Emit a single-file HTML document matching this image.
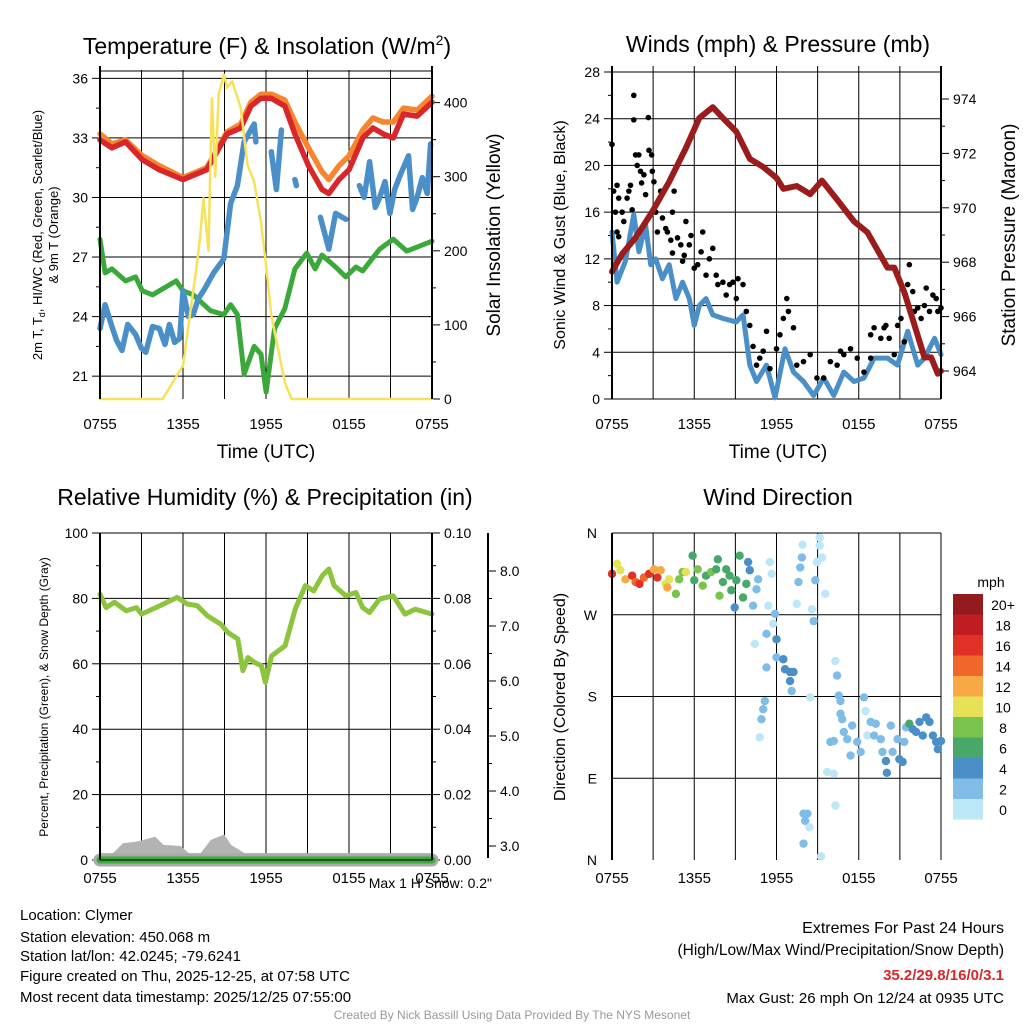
<!DOCTYPE html>
<html><head><meta charset="utf-8"><style>
body{margin:0;background:#fff;}
svg{font-family:"Liberation Sans",sans-serif;}
</style></head><body>
<svg id="s" width="1024" height="1024" viewBox="0 0 1024 1024" xmlns="http://www.w3.org/2000/svg">
<rect width="1024" height="1024" fill="#fff"/>
<text x="267" y="54" font-size="23" text-anchor="middle">Temperature (F) &amp; Insolation (W/m<tspan font-size="14" dy="-9">2</tspan><tspan dy="9">)</tspan></text>
<text x="778" y="52" font-size="23" text-anchor="middle">Winds (mph) &amp; Pressure (mb)</text>
<text x="265" y="505" font-size="23" text-anchor="middle">Relative Humidity (%) &amp; Precipitation (in)</text>
<text x="778" y="505" font-size="23" text-anchor="middle">Wind Direction</text>
<text x="266" y="458" font-size="19" text-anchor="middle">Time (UTC)</text>
<text x="778" y="458" font-size="19" text-anchor="middle">Time (UTC)</text>
<text transform="translate(42,235) rotate(-90)" font-size="13" text-anchor="middle"><tspan x="0" dy="0">2m T, T<tspan font-size="9" dy="3">d</tspan><tspan dy="-3">, HI/WC (Red, Green, Scarlet/Blue)</tspan></tspan><tspan x="0" dy="16">&amp; 9m T (Orange)</tspan></text>
<text transform="translate(500,235) rotate(-90)" font-size="19" text-anchor="middle">Solar Insolation (Yellow)</text>
<text transform="translate(565,235) rotate(-90)" font-size="16" text-anchor="middle">Sonic Wind &amp; Gust (Blue, Black)</text>
<text transform="translate(1015,235) rotate(-90)" font-size="19" text-anchor="middle">Station Pressure (Maroon)</text>
<text transform="translate(48,697) rotate(-90)" font-size="12" text-anchor="middle">Percent, Precipitation (Green), &amp; Snow Depth (Gray)</text>
<text transform="translate(565,697) rotate(-90)" font-size="16" text-anchor="middle">Direction (Colored By Speed)</text>
<text x="492" y="888" font-size="14" text-anchor="end">Max 1 H Snow: 0.2"</text>
<g font-size="15">
<text x="20" y="920">Location: Clymer</text>
<text x="20" y="942">Station elevation: 450.068 m</text>
<text x="20" y="961">Station lat/lon: 42.0245; -79.6241</text>
<text x="20" y="981">Figure created on Thu, 2025-12-25, at 07:58 UTC</text>
<text x="20" y="1002">Most recent data timestamp: 2025/12/25 07:55:00</text>
</g>
<g font-size="16" text-anchor="end">
<text x="1004" y="933">Extremes For Past 24 Hours</text>
<text x="1004" y="955" font-size="15.5">(High/Low/Max Wind/Precipitation/Snow Depth)</text>
<text x="1004" y="980" font-size="15" font-weight="bold" fill="#d62728">35.2/29.8/16/0/3.1</text>
<text x="1004" y="1003" font-size="15">Max Gust: 26 mph On 12/24 at 0935 UTC</text>
</g>
<text x="512" y="1019" font-size="12" fill="#999" text-anchor="middle">Created By Nick Bassill Using Data Provided By The NYS Mesonet</text>
<g id="g"></g>
</svg>
<script>
// ---- data (hours since 0755 UTC) ----
const xTickLabels=["0755","1355","1955","0155","0755"];
const tTime=[0,0.86,1.84,3.06,4.29,6.0,7.72,9.19,10.17,10.91,11.64,12.38,13.36,14.09,15.07,16.05,16.54,17.28,18.01,19.0,19.73,20.47,21.2,21.94,22.92,24];
const tempRed=[32.9,32.5,32.8,31.9,31.4,30.9,31.4,33.2,33.5,34.6,35.0,35.0,34.6,33.2,31.6,30.4,30.2,30.9,31.4,33.0,33.5,33.2,33.0,34.2,34.1,34.8];
const tempOrange=[33.2,32.7,32.9,32.1,31.6,31.0,31.5,33.3,33.7,34.8,35.2,35.2,34.9,33.8,32.5,31.3,30.9,31.6,32.1,33.4,34.0,33.8,33.8,34.5,34.4,35.1];
const blueTime=[0,0.37,0.86,1.2,1.59,2.0,2.57,3.0,3.31,3.8,4.29,4.7,5.02,5.4,5.76,6.0,6.4,6.74,7.1,7.48,8.21,8.95,9.44,9.93,10.42,11.15,11.27,11.8,12.38,12.75,13.11,13.6,14.09,14.2,15.0,15.93,16.54,17.03,17.77,18.2,18.75,19.1,19.49,19.9,20.22,20.6,20.96,21.3,21.69,22.3,22.6,22.92,23.3,23.65,23.9];
const tempBlue=[23.4,24.6,23.5,22.8,22.3,23.6,23.1,22.4,22.2,23.5,23.4,22.6,23.6,22.7,22.9,25.3,24.0,24.1,24.9,25.3,26.2,26.9,29.7,30.6,32.8,33.7,32.8,null,32.3,30.4,33.4,null,30.9,30.6,null,29.0,27.4,29.2,28.9,null,30.6,30.0,31.8,29.5,30.0,30.8,29.2,30.4,31.1,32.1,29.4,30.0,31.0,30.2,32.7];
const greenTime=[0,0.37,0.86,1.84,2.57,3.06,3.8,5.51,6.0,6.74,7.97,8.95,9.44,9.93,10.42,11.15,11.64,12.01,12.62,13.36,14.09,14.95,15.56,16.05,17.03,17.77,18.5,18.99,20.22,21.2,22.18,22.92,24];
const tempGreen=[27.9,26.2,26.4,25.8,26.0,25.3,25.1,25.8,25.3,25.1,24.3,24.1,24.6,24.1,21.1,22.5,22.1,20.2,23.4,24.4,26.4,27.2,26.4,27.1,26.5,26.0,26.5,26.3,27.4,27.9,27.3,27.5,27.8];
const solTime=[0,4.53,5.27,6.0,6.5,7.0,7.23,7.48,7.84,8.09,8.33,8.58,8.95,9.19,9.56,10.17,10.66,11.15,11.64,12.0,12.38,12.87,13.36,13.85,24];
const solar=[0,0,23,45,113,181,217,271,200,406,300,411,438,420,429,393,316,293,239,181,113,68,23,0,0];
// winds
const wTime=[0,0.37,0.98,1.59,1.96,2.45,2.82,3.19,3.68,4.17,4.66,5.15,5.64,6.0,6.37,6.86,7.35,8.09,9.07,9.56,10.05,10.54,11.27,11.89,12.62,13.24,13.97,14.71,15.44,16.18,16.91,17.65,18.38,19.12,20.1,20.83,21.57,22.3,22.79,23.53,24];
const wind=[14.3,10.0,11.8,15.8,12.6,14.9,11.5,12.0,10.3,11.5,8.6,10.0,8.6,6.3,8.0,8.6,7.2,6.9,6.6,7.2,2.9,1.5,2.9,0.1,4.3,2.3,1.5,0.3,1.8,0.3,2.3,1.5,1.8,3.5,3.5,2.9,5.8,2.9,3.5,5.2,3.8];
const gustTime=[0,0.12,0.37,0.49,0.25,0.37,0.49,0.74,0.86,1.1,1.23,1.35,1.47,1.59,1.59,1.72,1.96,1.84,2.08,2.16,2.33,2.45,2.65,2.7,2.89,2.94,3.06,3.19,3.31,3.55,3.68,3.92,4.04,4.29,4.41,4.53,4.41,4.78,5.02,5.15,5.39,5.27,5.64,5.76,6.0,6.25,6.5,6.62,6.86,7.1,7.35,7.6,7.72,8.09,8.33,8.58,8.82,9.07,9.19,9.56,9.8,10.05,10.29,10.54,10.78,11.03,11.27,11.52,12.0,12.25,12.5,12.75,12.87,13.24,13.48,13.97,14.46,14.95,15.44,15.93,16.42,16.67,16.91,17.4,17.89,18.38,18.87,18.87,19.12,19.61,19.85,19.98,20.22,20.59,20.83,21.08,21.32,21.57,21.69,21.94,22.06,22.3,22.55,22.79,22.92,23.16,23.41,23.65,23.77,24];
const gust=[21.8,17.8,18.3,17.2,16.0,14.3,13.9,16.0,15.2,17.2,17.8,18.3,16.2,23.9,26,20.9,20.9,20.0,19.5,18.5,19.2,17.5,24.1,21.3,20.9,19.5,18.6,16.0,14.3,17.8,15.5,14.6,14.3,13.6,16.0,17.8,12.5,13.8,13.2,11.8,15.2,12.3,13.2,14.0,11.2,11.5,12.6,14.3,10.6,12.0,12.9,10.6,9.8,10.0,8.9,9.8,10.0,8.6,10.3,9.8,7.5,6.3,4.5,2.9,3.5,4.1,5.8,2.6,4.3,5.5,6.9,8.6,7.5,6.1,2.9,3.2,3.8,1.8,1.8,3.2,2.9,4.1,3.8,4.3,3.5,2.3,3.5,5.5,6.1,5.2,6.1,6.3,5.2,3.8,6.3,6.9,4.9,9.8,11.5,9.2,7.5,7.8,6.9,8.0,9.5,7.5,8.9,8.6,7.5,7.8];
const presTime=[0,0.74,1.72,2.94,4.17,5.39,6.37,7.35,8.09,9.07,10.05,11.03,12.0,12.5,13.48,14.46,15.32,16.42,17.65,18.63,20.1,20.59,21.32,22.06,22.79,23.28,23.77,24];
const pressure=[967.65,968.3,968.9,969.86,970.96,972.2,973.3,973.7,973.3,972.8,971.8,971.5,971.1,970.7,970.8,970.5,971.0,970.3,969.5,969.1,967.8,967.8,966.9,965.7,964.5,964.5,963.9,964.0];
// RH / precip / snow
const rhTime=[0,0.44,1.05,1.9,2.64,3.0,4.35,5.57,6.3,7.03,7.76,8.74,9.23,9.96,10.33,10.69,11.18,11.67,11.96,12.4,13.38,14.11,14.84,15.45,16.06,16.55,16.92,17.77,18.5,18.99,19.48,20.21,21.19,22.05,22.78,24];
const rh=[81.3,77.2,78.8,76.2,77.2,75.2,77.8,80.3,78.3,77.8,74.7,72.1,69.6,67.6,57.9,61.9,60.4,59.4,54.3,62.4,65.5,76.7,83.9,82.3,86.9,89.0,83.9,80.8,81.8,77.2,75.7,79.8,80.8,75.2,76.7,75.2];
const precipTime=[0,24];
const precip=[0,0];
const snowTime=[0,0.93,1.66,2.64,3.13,3.98,4.59,5.81,6.42,7.28,8.0,8.98,9.47,10.45,24];
const snowDepth=[2.87,2.87,3.05,3.08,3.11,3.17,3.02,3.0,2.87,2.87,3.11,3.21,3.02,2.87,2.87];
// wind direction
const dTime=[0,0.37,0.61,0.98,1.47,1.72,2.01,2.33,2.7,3.06,3.31,3.55,3.92,4.17,4.04,4.66,4.9,5.15,5.39,5.88,6.0,6.25,6.62,6.86,7.23,7.6,7.72,7.84,8.09,8.33,8.58,8.7,8.95,9.07,9.31,9.56,9.8,9.93,10.05,10.29,10.54,10.66,11.4,11.52,11.64,11.89,11.76,11.27,10.42,12.0,12.0,12.5,12.62,12.99,13.24,12.99,13.11,11.27,11.15,11.03,10.9,10.78,13.48,13.6,13.73,13.85,13.9,14.58,14.71,14.83,14.95,15.15,15.15,15.32,15.56,14.46,13.97,14.26,14.09,14.41,13.97,15.25,16.3,16.42,16.54,16.67,16.67,16.79,15.93,16.18,15.69,16.18,16.3,16.91,17.16,17.4,17.52,17.89,18.14,18.38,18.5,18.63,18.87,19.24,19.12,19.61,19.73,19.98,20.05,20.34,20.47,20.83,20.96,21.2,21.32,21.45,21.69,21.94,22.18,22.43,22.67,22.92,23.16,23.41,23.65,23.77,24];
const dDir=[315,326,319,309,313,306,304,311,315,320,311,319,304,309,300,293,309,317,317,335,308,320,302,313,317,320,331,291,306,320,313,297,278,308,335,289,304,328,319,280,298,309,280,328,315,271,260,249,238,243,223,221,210,207,207,197,186,212,175,166,155,135,282,306,322,333,347,276,263,308,328,355,346,333,293,179,51,51,43,36,18,4,219,203,181,175,161,155,130,131,97,95,60,141,133,115,148,130,119,179,164,137,152,150,137,133,119,109,96,148,119,133,111,108,130,146,150,144,141,152,137,157,152,137,130,122,131];
const dSpeed=[16,10,10,12,16,14,16,14,16,12,16,12,10,10,12,8,8,8,10,6,6,8,8,6,8,6,6,8,6,6,6,6,4,6,6,6,6,4,4,2,2,2,0,0,0,2,0,2,0,4,2,4,4,4,4,4,2,2,2,2,2,0,0,2,2,2,0,0,2,2,0,0,0,0,0,0,2,2,2,0,2,0,0,2,2,2,2,2,2,2,0,0,0,2,2,2,2,2,2,2,0,0,2,2,2,2,2,4,4,2,2,2,4,4,2,2,6,4,4,4,4,4,4,4,4,4,4];
const cbLabels=["0","2","4","6","8","10","12","14","16","18","20+"];
const cbColors=["#bde6f6","#7fbde6","#4a8fc8","#48a86a","#7ac34c","#e7e157","#f7a944","#f0662b","#e13127","#c01d23","#931a1d"];

const NS="http://www.w3.org/2000/svg";
const G=document.getElementById('g');
function mk(tag,at,par){const e=document.createElementNS(NS,tag);for(const k in at)e.setAttribute(k,at[k]);(par||G).appendChild(e);return e;}
function lin(d0,d1,r0,r1){return v=>r0+(v-d0)/(d1-d0)*(r1-r0);}
function path(xs,ys,fx,fy){let s='',pen=false;xs.forEach((t,i)=>{const v=ys[i];if(v===null||v===undefined){pen=false;return;}
  s+=(pen?'L':'M')+fx(t).toFixed(1)+','+fy(v).toFixed(1);pen=true;});return s;}

function frame(x0,x1,y0,y1,gridYs,fy,lblOff){
  const fx=lin(0,24,x0,x1);
  for(let h=0;h<=24;h+=3){const l=mk('line',{x1:fx(h),x2:fx(h),y1:y0,y2:y1,stroke:'#000','stroke-width':1});
    }
  gridYs.forEach(v=>{const l=mk('line',{x1:x0,x2:x1,y1:fy(v),y2:fy(v),stroke:'#000','stroke-width':1});
    });
  xTickLabels.forEach((s,i)=>{const t=mk('text',{x:fx(i*6),y:y1+lblOff,'font-size':15,'text-anchor':'middle'});t.textContent=s;
    });
  return fx;
}
function yAxis(x,fy,ticks,side,fmt,minor){
  ticks.forEach(v=>{const y=fy(v);mk('line',{x1:x,x2:x+(side<0?-8:8),y1:y,y2:y,stroke:'#000'});
    const t=mk('text',{x:x+(side<0?-12:12),y:y+5,'font-size':14,'text-anchor':side<0?'end':'start'});t.textContent=fmt(v);
    });
  (minor||[]).forEach(v=>{const y=fy(v);mk('line',{x1:x,x2:x+(side<0?-4:4),y1:y,y2:y,stroke:'#000'});});
}
function axisLine(x,y0,y1){mk('line',{x1:x,x2:x,y1:y0,y2:y1,stroke:'#000','stroke-width':2});}
function series(xs,ys,fx,fy,col,w,name){const p=mk('path',{d:path(xs,ys,fx,fy),fill:'none',stroke:col,'stroke-width':w,'stroke-linejoin':'round','stroke-linecap':'round'});
  return p;}

// Panel 1
{const fy=lin(19.85,36.42,399,70),fs=lin(0,444,399,70);
 const fx=frame(100,432,70,399,[21,24,27,30,33,36],fy,30);
 mk('line',{x1:100,x2:432,y1:71,y2:71,stroke:'#000'});
 yAxis(100,fy,[21,24,27,30,33,36],-1,v=>v,[19.5,22.5,25.5,28.5,31.5,34.5].filter(v=>v>19.85));
 yAxis(432,fs,[0,100,200,300,400],1,v=>v,[50,150,250,350]);
 series(greenTime,tempGreen,fx,fy,'#3aa93a',5,'heat-index-line');
 series(blueTime,tempBlue,fx,fy,'#4a8fc8',5.5,'dewpoint-line');
 series(tTime,tempOrange,fx,fy,'#f5862e',5.5,'temp-9m-line');
 series(tTime,tempRed,fx,fy,'#d8262a',5.5,'temp-2m-line');
 series(solTime,solar,fx,fs,'#f7e15a',2.5,'insolation-line');
 axisLine(100,66,399);axisLine(432,66,399);}
// Panel 2
{const fy=lin(0,28,399,72),fp=lin(964,974,371,99);
 const fx=frame(612,941,66,399,[0,4,8,12,16,20,24,28],fy,30);
 yAxis(612,fy,[0,4,8,12,16,20,24,28],-1,v=>v,[2,6,10,14,18,22,26]);
 yAxis(941,fp,[964,966,968,970,972,974],1,v=>v,[965,967,969,971,973]);
 series(wTime,wind,fx,fy,'#4a8fc8',5,'sonic-wind-line');
 gustTime.forEach((t,i)=>{const c=mk('circle',{cx:fx(t),cy:fy(gust[i]),r:2.8,fill:'#000'});
   });
 series(presTime,pressure,fx,fp,'#9b1c1c',6,'pressure-line');
 axisLine(612,66,399);axisLine(941,66,399);}
// Panel 3
{const fy=lin(0,100,860,533),fq=lin(0,0.1,860,533),fsn=lin(3,8,846,571);
 const fx=frame(100,432,533,860,[0,20,40,60,80,100],fy,23);
 yAxis(100,fy,[0,20,40,60,80,100],-1,v=>v,[10,30,50,70,90]);
 yAxis(432,fq,[0,0.02,0.04,0.06,0.08,0.10],1,v=>v.toFixed(2),[0.01,0.03,0.05,0.07,0.09]);
 axisLine(488,533,858);
 yAxis(488,fsn,[3,4,5,6,7,8],1,v=>v.toFixed(1),[3.5,4.5,5.5,6.5,7.5]);
 const sd=path(snowTime,snowDepth,fx,fsn)+'L'+fx(24)+',860L'+fx(0)+',860Z';
 const a=mk('path',{d:sd,fill:'#b3b3b3'});
 const gl=mk('line',{x1:100,x2:432,y1:860,y2:860,stroke:'#aaa','stroke-width':13,'stroke-linecap':'round'});
 
 series(precipTime,precip,fx,fq,'#3aaa3a',7,'precip-line');
 series(rhTime,rh,fx,fy,'#8cc43e',5,'rh-line');
 mk('line',{x1:100,x2:432,y1:860,y2:860,stroke:'#000','stroke-width':1});
 axisLine(100,533,860);axisLine(432,533,860);}
// Panel 4
{const fy=lin(0,360,860,533);
 const fx=frame(612,941,533,860,[90,180,270,360],fy,23);
 const dl=["N","E","S","W","N"];
 [0,90,180,270,360].forEach((v,i)=>{const t=mk('text',{x:597,y:fy(v)+5,'font-size':14,'text-anchor':'end'});t.textContent=dl[i];
   });
 dTime.forEach((t,i)=>{const k=Math.min(10,Math.floor(dSpeed[i]/2));const c=mk('circle',{cx:fx(t),cy:fy(dDir[i]),r:4.2,fill:cbColors[k]});
   });
 axisLine(612,533,860);
 const t=mk('text',{x:991,y:587,'font-size':14,'text-anchor':'middle'});t.textContent='mph';
 cbLabels.forEach((s,i)=>{const y=799-i*20.5;const r=mk('rect',{x:953,y:y,width:30,height:20.5,fill:cbColors[i]});
   
   const tx=mk('text',{x:1003,y:y+16,'font-size':14,'text-anchor':'middle'});tx.textContent=s;
   });}
</script>
</body></html>
